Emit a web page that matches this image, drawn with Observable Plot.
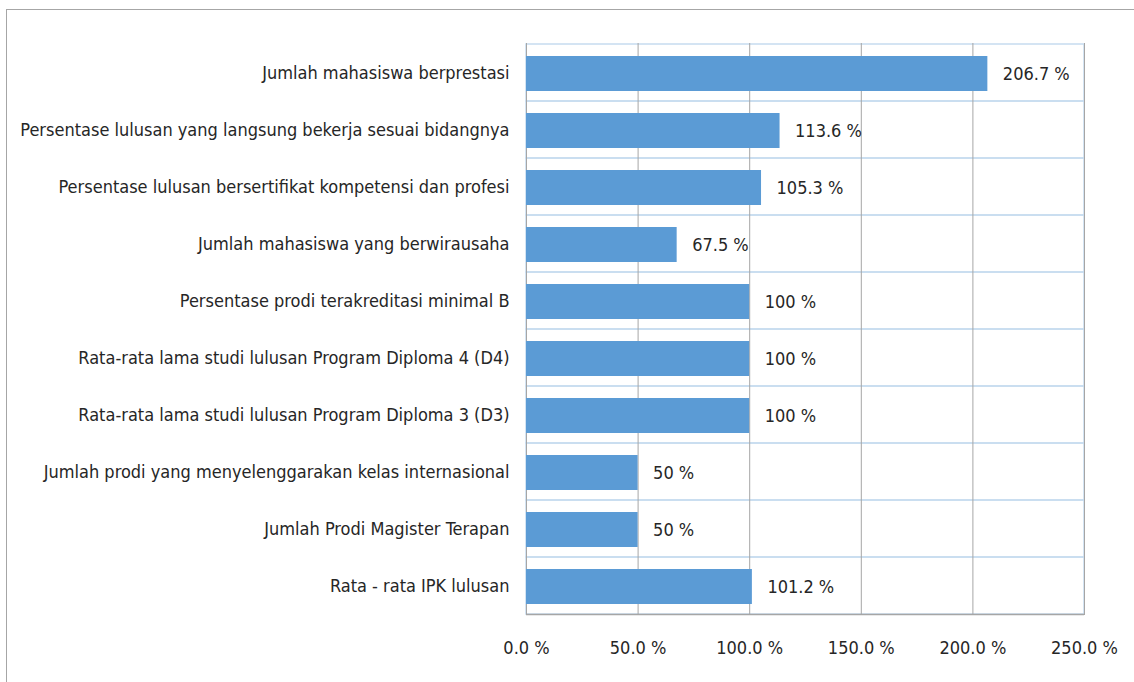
<!DOCTYPE html>
<html>
<head>
<meta charset="utf-8">
<script src="https://cdn.jsdelivr.net/npm/d3@7"></script>
<script src="https://cdn.jsdelivr.net/npm/@observablehq/plot@0.6"></script>
<style>
  html, body { margin: 0; padding: 0; background: #fff; overflow: hidden; }
  #wrap { position: relative; width: 1134px; height: 682px; }
  #border { position: absolute; left: 6px; top: 9px; width: 1200px; height: 800px;
            border-left: 1px solid #a6a6a6; border-top: 1px solid #a6a6a6; }
  #chart { position: absolute; left: 0; top: 0; }
</style>
</head>
<body>
<div id="wrap"><div id="border"></div><div id="chart"></div></div>
<script>
const categories = [
  "Jumlah mahasiswa berprestasi",
  "Persentase lulusan yang langsung bekerja sesuai bidangnya",
  "Persentase lulusan bersertifikat kompetensi dan profesi",
  "Jumlah mahasiswa yang berwirausaha",
  "Persentase prodi terakreditasi minimal B",
  "Rata-rata lama studi lulusan Program Diploma 4 (D4)",
  "Rata-rata lama studi lulusan Program Diploma 3 (D3)",
  "Jumlah prodi yang menyelenggarakan kelas internasional",
  "Jumlah Prodi Magister Terapan",
  "Rata - rata IPK lulusan"
];
const values = [206.7, 113.6, 105.3, 67.5, 100, 100, 100, 50, 50, 101.2];
const xTicks = [0, 50, 100, 150, 200, 250];

const data = categories.map((c, i) => ({category: c, value: values[i]}));
const font = "'Liberation Sans Narrow', 'DejaVu Sans Condensed', 'Liberation Sans', sans-serif";
const textColor = "#262626";
const band = (615 - 43) / categories.length;

const chart = Plot.plot({
  width: 1134,
  height: 682,
  marginLeft: 526,
  marginRight: 50,
  marginTop: 43,
  marginBottom: 67,
  style: {fontFamily: font, fontSize: "18px", color: textColor, background: "transparent"},
  x: {domain: [0, 250], ticks: xTicks},
  y: {domain: categories, padding: 0},
  marks: [
    Plot.barX(data, {y: "category", x1: 0, x2: 250, fill: "none", stroke: "#c6dbef", strokeWidth: 1.5}),
    Plot.ruleX(xTicks, {stroke: "#a6a6a6", strokeWidth: 1}),
    Plot.barX(data, {y: "category", x: "value", fill: "#5b9bd5", insetTop: 12, insetBottom: 10}),
    Plot.ruleY([categories[categories.length - 1]], {stroke: "#a6a6a6", strokeWidth: 1.5, dy: band / 2}),
    Plot.text(data, {y: "category", x: "value", text: d => `${d.value} %`, dx: 15, dy: 1,
      textAnchor: "start", fontSize: 18, fill: textColor}),
    Plot.axisY({tickSize: 0, tickPadding: 17, fontSize: 18, fill: textColor, label: null}),
    Plot.axisX({ticks: xTicks, tickSize: 0, tickPadding: 26, fontSize: 18, fill: textColor,
      tickFormat: d => d.toFixed(1) + " %", label: null})
  ]
});
document.getElementById("chart").appendChild(chart);
</script>
</body>
</html>
